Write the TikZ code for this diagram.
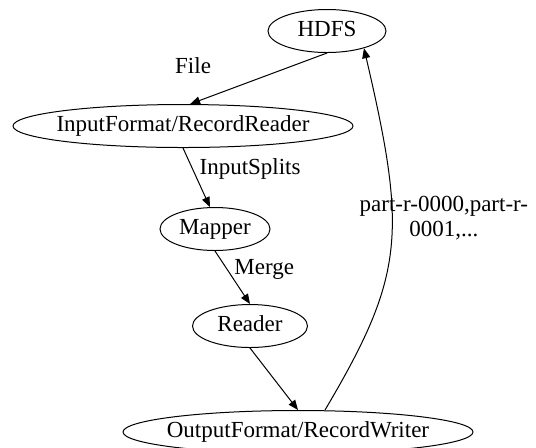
\documentclass[tikz,border=0pt]{standalone}
\usepackage{fontspec}
\setmainfont{Liberation Serif}
\usetikzlibrary{arrows.meta,positioning,shapes.geometric}

\begin{document}
\begin{tikzpicture}[
    x=0.5pt, y=-0.5pt,
    every node/.style={font=\fontsize{11.5}{11.5}\selectfont},
    ellbox/.style={draw, ellipse, line width=0.5pt, inner xsep=-6pt, inner ysep=0pt, minimum height=21.5pt, text height=1.5ex, text depth=0.25ex},
    arrstyle/.style={-{Triangle[length=5pt, width=4pt]}, line width=0.5pt}
]
\useasboundingbox (0,0) rectangle (536,447);
% HDFS store on top
\node[ellbox, minimum width=59pt] (hdfs) at (327,31) {HDFS};

% job chain
\node[ellbox, minimum width=170pt, below=25.5pt of hdfs, xshift=-72pt] (ifmt) {InputFormat/RecordReader};
\node[ellbox, minimum width=55pt, below=29.5pt of ifmt, xshift=16pt] (mapper) {Mapper};
\node[ellbox, minimum width=57.5pt, below=26.5pt of mapper, xshift=17.5pt] (reader) {Reader};
\node[ellbox, minimum width=175pt, below=31pt of reader, xshift=24pt] (ofmt) {OutputFormat/RecordWriter};

% connectors
\draw[arrstyle] (hdfs.south) -- (ifmt.72) node[midway, xshift=-32.75pt, yshift=6.5pt] {File};
\draw[arrstyle] (ifmt.south) -- (mapper.103) node[pos=0.35, right] {InputSplits};
\draw[arrstyle] (mapper.south) -- (reader.north) node[pos=0.35, right] {Merge};
\draw[arrstyle] (reader.south) -- (ofmt.north);
\draw[arrstyle] ([xshift=13.5pt]ofmt.north) .. controls (405,275) and (407,233) .. (hdfs.-25)
    node[pos=0.6, xshift=26pt, yshift=-1pt, align=center, font=\fontsize{11.5}{12.5}\selectfont] {part-r-0000,part-r-\\0001,...};
\end{tikzpicture}
\end{document}
